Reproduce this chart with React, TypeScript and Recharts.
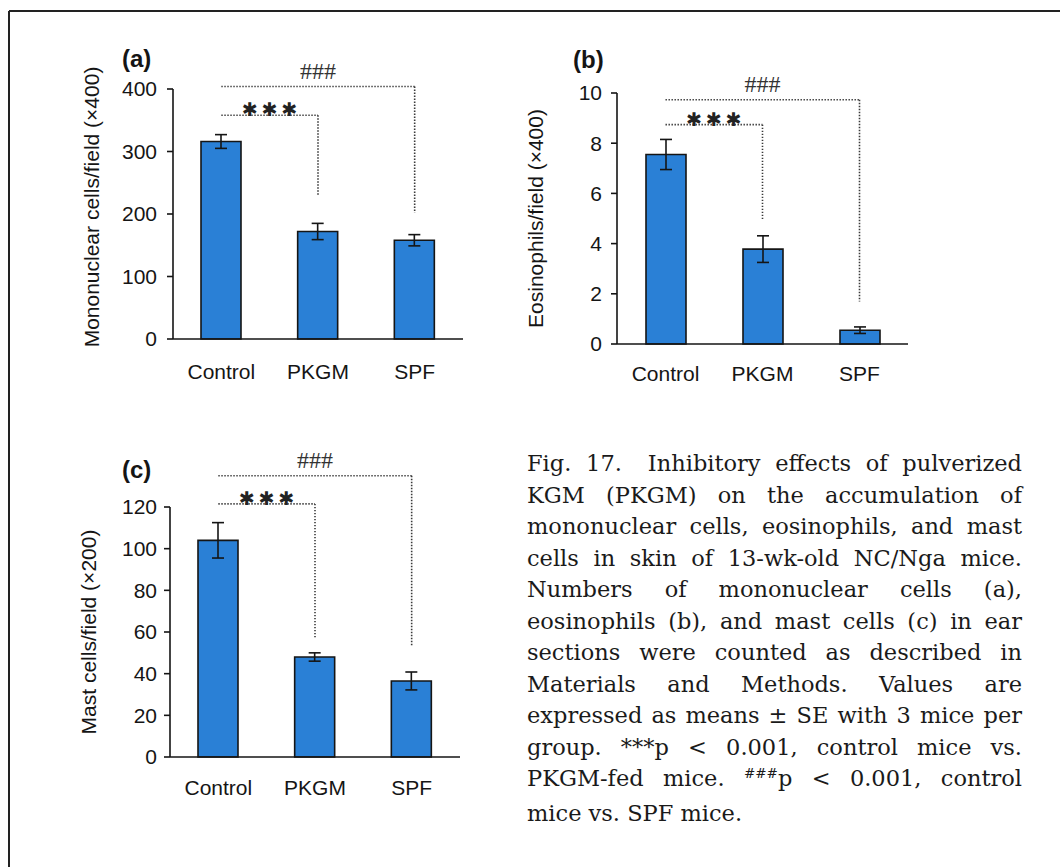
import React from 'react';
import { BarChart, Bar, XAxis, YAxis, ErrorBar, ReferenceLine } from 'recharts';

// ---------- data ----------
const categories = ['Control', 'PKGM', 'SPF'];

const mononuclearMeans = [316, 172, 158];
const mononuclearSE = [11, 13, 9];
const mononuclearTicks = [0, 100, 200, 300, 400];

const eosinophilMeans = [7.55, 3.78, 0.55];
const eosinophilSE = [0.6, 0.53, 0.13];
const eosinophilTicks = [0, 2, 4, 6, 8, 10];

const mastMeans = [104, 48, 36.5];
const mastSE = [8.5, 2, 4.3];
const mastTicks = [0, 20, 40, 60, 80, 100, 120];

// significance brackets: [bracket level, end of the drop line] in data units
const mononuclearHash = [404, 202];
const mononuclearStar = [358, 229];
const eosinophilHash = [9.73, 1.69];
const eosinophilStar = [8.74, 4.97];
const mastHash = [135, 53.5];
const mastStar = [121.5, 57.5];

const buildRows = (means: number[], se: number[]) =>
  categories.map((name, i) => ({ name, mean: means[i], se: se[i] }));

// ---------- styles ----------
const INK = '#151515';
const BLUE = '#2a80d6';
const DOT = '#3a3a3a';
const SANS = '"Liberation Sans", Arial, Helvetica, sans-serif';
const SERIF = '"DejaVu Serif", "Liberation Serif", serif';

const YLabel = (props: any) => {
  const { viewBox, text, shift } = props;
  const cx = viewBox.x + viewBox.width - 82;
  const cy = viewBox.y + viewBox.height / 2 + (shift || 0);
  return (
    <text
      x={cx}
      y={cy}
      dy="0.36em"
      transform={`rotate(-90 ${cx} ${cy})`}
      textAnchor="middle"
      fontFamily={SANS}
      fontSize={21}
      fill={INK}
    >
      {text}
    </text>
  );
};

type PanelProps = {
  rows: any[];
  ticks: number[];
  yLabel: string;
  labelShift?: number;
  hash: number[];
  star: number[];
  left: number;
  top: number;
  width: number;
  height: number;
  margin: { top: number; right: number; bottom: number; left: number };
  xTickMargin: number;
  yTickMargin: number;
};

const Panel = (p: PanelProps) => {
  const max = p.ticks[p.ticks.length - 1];
  const dotted = { stroke: DOT, strokeWidth: 1.6, strokeDasharray: '1.4 1.6' };
  return (
    <div style={{ position: 'absolute', left: p.left, top: p.top }}>
      <BarChart width={p.width} height={p.height} data={p.rows} margin={p.margin}>
        <XAxis
          dataKey="name"
          interval={0}
          tickLine={false}
          tickSize={6}
          tickMargin={p.xTickMargin}
          height={50}
          axisLine={{ stroke: INK, strokeWidth: 1.6 }}
          tick={{ fill: INK, fontSize: 21, fontFamily: SANS }}
        />
        <YAxis
          width={60}
          domain={[0, max]}
          ticks={p.ticks}
          interval={0}
          tickSize={6}
          tickMargin={p.yTickMargin}
          axisLine={{ stroke: INK, strokeWidth: 1.6 }}
          tickLine={{ stroke: INK, strokeWidth: 1.6 }}
          tick={{ fill: INK, fontSize: 21, fontFamily: SANS }}
          label={{ content: (lp: any) => <YLabel {...lp} text={p.yLabel} shift={p.labelShift} /> }}
        />
        <Bar
          dataKey="mean"
          fill={BLUE}
          stroke={INK}
          strokeWidth={1.6}
          barSize={40}
          isAnimationActive={false}
        >
          <ErrorBar
            dataKey="se"
            width={6}
            stroke={INK}
            strokeWidth={1.6}
            direction="y"
            isAnimationActive={false}
          />
        </Bar>
        <ReferenceLine
          ifOverflow="visible"
          segment={[
            { x: categories[0], y: p.hash[0] },
            { x: categories[2], y: p.hash[0] },
          ]}
          {...dotted}
          label={{
            value: '###',
            position: 'top',
            offset: 8,
            fill: '#333',
            fontSize: 24,
            fontFamily: '"Liberation Serif", serif',
          }}
        />
        <ReferenceLine
          ifOverflow="visible"
          segment={[
            { x: categories[2], y: p.hash[0] },
            { x: categories[2], y: p.hash[1] },
          ]}
          {...dotted}
        />
        <ReferenceLine
          ifOverflow="visible"
          segment={[
            { x: categories[0], y: p.star[0] },
            { x: categories[1], y: p.star[0] },
          ]}
          {...dotted}
          label={{
            value: '\u2731\u2009\u2731\u2009\u2731',
            position: 'top',
            offset: -1,
            fill: '#222',
            fontSize: 19,
            fontFamily: '"DejaVu Sans", sans-serif',
          }}
        />
        <ReferenceLine
          ifOverflow="visible"
          segment={[
            { x: categories[1], y: p.star[0] },
            { x: categories[1], y: p.star[1] },
          ]}
          {...dotted}
        />
      </BarChart>
    </div>
  );
};

const captionLines: React.ReactNode[] = [
  'Fig. 17.\u2002 Inhibitory effects of pulverized',
  'KGM (PKGM) on the accumulation of',
  'mononuclear cells, eosinophils, and mast',
  'cells in skin of 13-wk-old NC/Nga mice.',
  'Numbers of mononuclear cells (a),',
  'eosinophils (b), and mast cells (c) in ear',
  'sections were counted as described in',
  'Materials and Methods. Values are',
  'expressed as means \u00b1 SE with 3 mice per',
  'group. ***p < 0.001, control mice vs.',
  <>
    PKGM-fed mice.{' '}
    <span style={{ fontSize: '0.6em', position: 'relative', top: '-0.6em' }}>###</span>p &lt; 0.001, control
  </>,
  'mice vs. SPF mice.',
];

export default function App() {
  return (
    <div
      style={{
        position: 'relative',
        width: 1060,
        height: 867,
        background: '#ffffff',
        overflow: 'hidden',
      }}
    >
      <style>{'body{margin:0;}'}</style>
      <svg
        width={1060}
        height={867}
        style={{ position: 'absolute', left: 0, top: 0 }}
      >
        <line x1={9} y1={11} x2={1060} y2={11} stroke="#222" strokeWidth={2} />
        <line x1={9} y1={11} x2={9} y2={867} stroke="#222" strokeWidth={2} />
        <text x={122} y={67} fontFamily={SANS} fontWeight="bold" fontSize={24} fill={INK}>
          (a)
        </text>
        <text x={573} y={68} fontFamily={SANS} fontWeight="bold" fontSize={24} fill={INK}>
          (b)
        </text>
        <text x={122} y={478} fontFamily={SANS} fontWeight="bold" fontSize={24} fill={INK}>
          (c)
        </text>
      </svg>

      <Panel
        rows={buildRows(mononuclearMeans, mononuclearSE)}
        ticks={mononuclearTicks}
        yLabel="Mononuclear cells/field (×400)"
        labelShift={-7}
        hash={mononuclearHash}
        star={mononuclearStar}
        left={0}
        top={0}
        width={480}
        height={400}
        margin={{ top: 89, right: 17, bottom: 11, left: 113 }}
        xTickMargin={19}
        yTickMargin={10}
      />
      <Panel
        rows={buildRows(eosinophilMeans, eosinophilSE)}
        ticks={eosinophilTicks}
        yLabel="Eosinophils/field (×400)"
        hash={eosinophilHash}
        star={eosinophilStar}
        left={460}
        top={0}
        width={470}
        height={400}
        margin={{ top: 93, right: 22, bottom: 6, left: 97 }}
        xTickMargin={16}
        yTickMargin={9}
      />
      <Panel
        rows={buildRows(mastMeans, mastSE)}
        ticks={mastTicks}
        yLabel="Mast cells/field (×200)"
        hash={mastHash}
        star={mastStar}
        left={0}
        top={420}
        width={480}
        height={447}
        margin={{ top: 87, right: 20, bottom: 60, left: 110 }}
        xTickMargin={17}
        yTickMargin={7}
      />

      <div
        style={{
          position: 'absolute',
          left: 527,
          top: 448,
          width: 495,
          fontFamily: SERIF,
          fontSize: 22.5,
          lineHeight: '31.5px',
          color: '#1a1a1a',
        }}
      >
        {captionLines.map((ln, i) => (
          <div
            key={i}
            style={{
              textAlign: i === captionLines.length - 1 ? 'left' : 'justify',
              textAlignLast: i === captionLines.length - 1 ? 'left' : 'justify',
            }}
          >
            {ln}
          </div>
        ))}
      </div>
    </div>
  );
}
